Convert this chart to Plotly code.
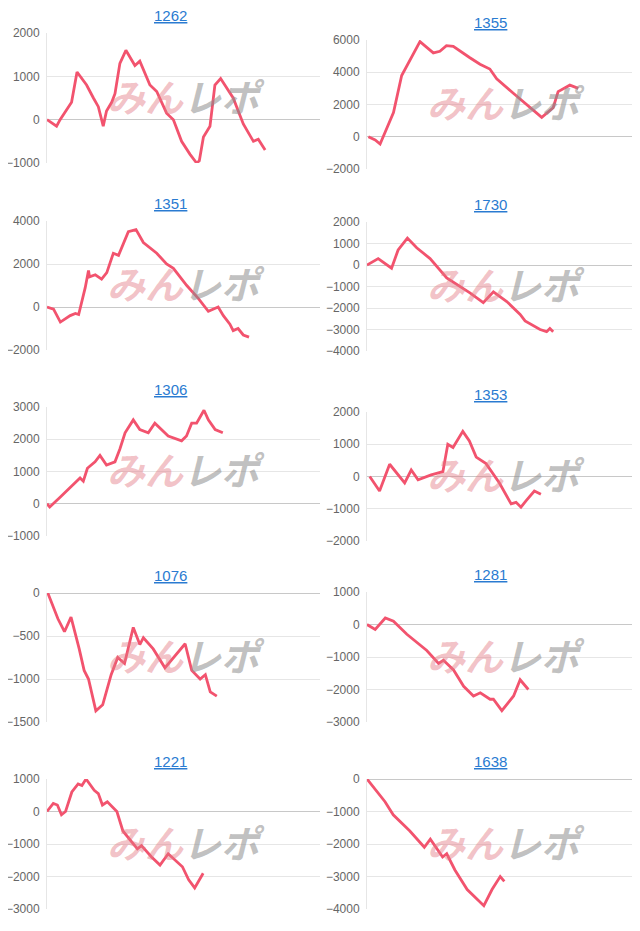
import plotly.graph_objects as go

# x: trading step (0-100 scale), y: cumulative balance
titles = ["1262", "1355", "1351", "1730", "1306", "1353", "1076", "1281", "1221", "1638"]

x_1262 = [0, 3.5, 4.8, 7.8, 9, 11, 14.5, 17, 18.8, 20.6, 21.8, 23.7, 24.9, 26.7, 28.9, 32.2, 34, 37.7, 40.2, 43.8, 46.3, 49.3, 52.4, 54.8, 55.8, 57.3, 59.7, 61.5, 63.6, 68.2, 71.9, 75.6, 77.4, 79.9]
y_1262 = [0, -150, 0, 300, 400, 1100, 800, 500, 300, -150, 200, 400, 600, 1300, 1600, 1250, 1350, 800, 650, 150, 0, -500, -800, -1000, -950, -400, -150, 800, 950, 500, -100, -500, -450, -700]

x_1355 = [0.5, 3, 4.8, 7.2, 9.7, 12.7, 19.4, 24.3, 26.7, 29.1, 31.6, 37.7, 41.4, 45, 47.5, 53.6, 58.5, 64, 68.2, 70, 74.3, 77.4]
y_1355 = [0, -200, -450, 500, 1500, 3800, 5900, 5200, 5300, 5650, 5600, 4900, 4500, 4200, 3600, 2700, 2000, 1200, 1800, 2800, 3200, 3000]

x_1351 = [0, 2.4, 4.9, 8.5, 10.4, 11.6, 14, 15.2, 15.6, 17.7, 20, 21.9, 24.3, 26.2, 29.8, 32.6, 35.3, 40.2, 43.8, 46.3, 51.2, 55.4, 59.1, 62.7, 64.6, 67, 68.2, 70, 71.9, 74]
y_1351 = [0, -100, -700, -400, -300, -350, 900, 1700, 1400, 1500, 1300, 1600, 2500, 2400, 3500, 3600, 3000, 2500, 2000, 1800, 1000, 400, -200, 0, -400, -800, -1100, -1000, -1300, -1400]

x_1730 = [0, 4.1, 9, 11.4, 14.8, 18.2, 23.1, 29.2, 37.7, 42.6, 46.3, 51.2, 56.1, 57.9, 63.4, 65.8, 67, 68.2]
y_1730 = [0, 300, -150, 700, 1250, 800, 300, -600, -1300, -1750, -1250, -1700, -2300, -2600, -3000, -3100, -2950, -3100]

x_1306 = [0, 1, 4.8, 12.1, 13.3, 14.8, 17.6, 19.4, 21.8, 24.9, 26.7, 28.6, 31.6, 34, 37.1, 39.5, 44.4, 49.3, 51.1, 53, 54.8, 57.5, 59.1, 61.6, 64.4]
y_1306 = [0, -100, 200, 800, 700, 1100, 1300, 1500, 1200, 1300, 1700, 2200, 2600, 2300, 2200, 2500, 2100, 1950, 2100, 2500, 2500, 2900, 2600, 2300, 2200]

x_1353 = [1, 4.6, 8.3, 13.8, 16.2, 18.7, 23.5, 27.8, 29.6, 31.5, 35.1, 37.5, 40, 43.6, 48.5, 52.8, 54.6, 56.4, 58.3, 61.3, 63.7]
y_1353 = [0, -450, 380, -200, 200, -100, 50, 150, 1000, 900, 1400, 1100, 600, 400, -200, -850, -800, -950, -750, -450, -550]

x_1076 = [0.3, 4, 6.4, 8.8, 11.8, 13.6, 15.2, 17.9, 20.4, 23.5, 25.9, 28.4, 31.6, 34, 35.3, 38.9, 43.2, 46.3, 50.6, 53, 56.1, 58, 59.8, 62.2]
y_1076 = [0, -300, -450, -280, -650, -900, -1000, -1370, -1300, -950, -750, -820, -400, -600, -520, -650, -870, -750, -590, -900, -1000, -950, -1150, -1200]

x_1281 = [0, 3, 6.7, 9.7, 14.6, 21.9, 26.2, 28, 31.7, 35.4, 39, 41.5, 45.1, 46.3, 49.4, 53.7, 56.1, 59.1]
y_1281 = [0, -150, 200, 100, -300, -800, -1200, -1100, -1400, -1900, -2200, -2100, -2300, -2300, -2650, -2200, -1700, -2000]

x_1221 = [0, 2.3, 3.8, 5.3, 6.8, 9.1, 11.4, 12.8, 14.3, 17.3, 18.8, 20.3, 22.1, 25.6, 27.8, 33.1, 34.6, 38.3, 41.4, 44.4, 49.6, 51.9, 54.1, 57.2]
y_1221 = [0, 250, 200, -100, 0, 600, 850, 800, 1000, 650, 550, 200, 300, 0, -600, -1150, -1050, -1400, -1650, -1300, -1700, -2100, -2350, -1900]

x_1638 = [0, 3.6, 6.6, 9.6, 15.7, 21, 23.2, 27.7, 29.2, 32.2, 36.7, 42.8, 45.8, 48.8, 50.3]
y_1638 = [0, -400, -700, -1100, -1600, -2100, -1850, -2400, -2300, -2800, -3400, -3900, -3400, -3000, -3150]

y_ranges = [[-1000, 2000], [-2000, 6000], [-2000, 4000], [-4000, 2000], [-1000, 3000],
            [-2000, 2000], [-1500, 0], [-3000, 1000], [-3000, 1000], [-4000, 0]]
y_dtick = [1000, 2000, 2000, 1000, 1000, 1000, 500, 1000, 1000, 1000]

series = [(x_1262, y_1262), (x_1355, y_1355), (x_1351, y_1351), (x_1730, y_1730), (x_1306, y_1306),
          (x_1353, y_1353), (x_1076, y_1076), (x_1281, y_1281), (x_1221, y_1221), (x_1638, y_1638)]

# pixel boxes (top, bottom) of each plot area in the page; page body has an 8px margin
W, H, OFF = 640, 931, 8
boxes = [(33, 163), (40, 169), (221, 350), (222, 351), (407, 536),
         (412, 541), (593, 722), (592, 722), (779, 909), (779, 909)]
x_doms = [[(47 - OFF) / W, (320 - OFF) / W], [(367 - OFF) / W, 1.0]]
x_rngs = [[0, 100], [0, 100 * (W + OFF - 367) / 273]]

LINE = "#f2536e"
WM = ("<b><i><span style='color:rgba(226,120,130,0.45)'>みん</span>"
      "<span style='color:rgba(140,140,140,0.55)'>レポ</span></i></b>")

fig = go.Figure()
layout = dict(width=W, height=H, margin=dict(l=0, r=0, t=0, b=0, autoexpand=False),
              plot_bgcolor="white", paper_bgcolor="white", showlegend=False,
              font=dict(family="Arial, Liberation Sans, sans-serif", color="#666", size=12))
annotations = []

for i, (xs, ys) in enumerate(series):
    n = i + 1
    sx = "" if n == 1 else str(n)
    fig.add_trace(go.Scatter(x=xs, y=ys, mode="lines", line=dict(color=LINE, width=2.8),
                             xaxis="x" + sx, yaxis="y" + sx, hoverinfo="skip"))
    top, bot = boxes[i]
    col = i % 2
    layout["xaxis" + sx] = dict(domain=x_doms[col], range=x_rngs[col], showticklabels=False,
                                showgrid=False, zeroline=False, showline=False,
                                anchor="y" + sx, automargin=False)
    layout["yaxis" + sx] = dict(domain=[1 - (bot - OFF) / H, 1 - (top - OFF) / H],
                                range=y_ranges[i], dtick=y_dtick[i], gridcolor="#e6e6e6",
                                zeroline=True, zerolinecolor="#c8c8c8", zerolinewidth=1,
                                showline=True, linecolor="#e6e6e6", ticks="",
                                tickfont=dict(size=12, color="#666"), anchor="x" + sx,
                                ticklabelstandoff=4, automargin=False)
    annotations.append(dict(text="<u>" + titles[i] + "</u>", xref="paper", yref="paper",
                            x=(170 - OFF) / W if col == 0 else (490 - OFF) / W,
                            y=1 - (top - 18 - OFF) / H, xanchor="center", yanchor="middle",
                            showarrow=False, font=dict(size=15, color="#2a7bd1")))
    annotations.append(dict(text=WM, xref="paper", yref="y" + sx + " domain",
                            x=(186 - OFF) / W if col == 0 else (506 - OFF) / W, y=0.52,
                            xanchor="center", yanchor="middle",
                            showarrow=False, font=dict(size=38, family="Noto Sans CJK JP")))

layout["annotations"] = annotations
fig.update_layout(**layout)
fig.write_html("out.html")
